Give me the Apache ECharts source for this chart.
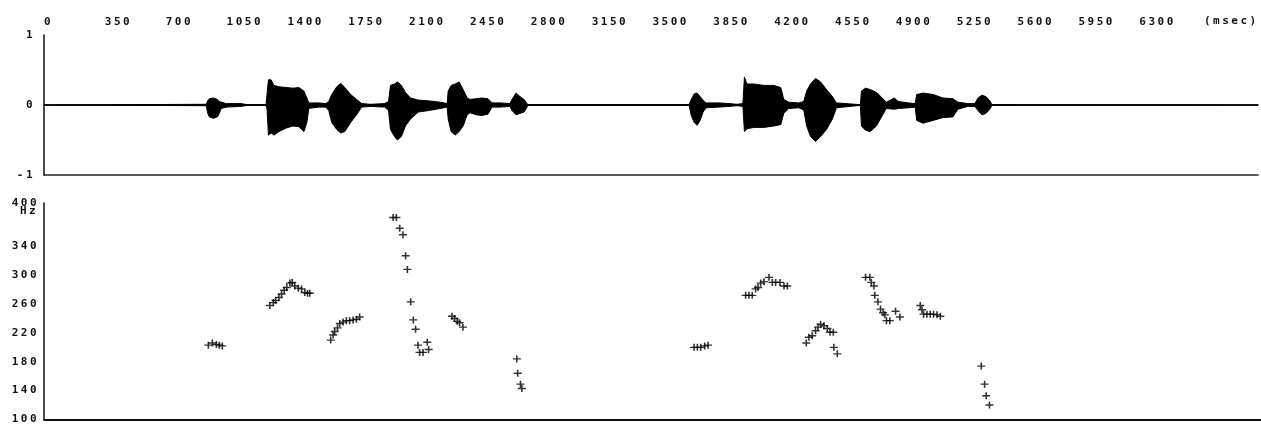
<!DOCTYPE html>
<html>
<head>
<meta charset="utf-8">
<script src="https://cdn.jsdelivr.net/npm/echarts@6/dist/echarts.min.js"></script>
<style>
html,body{margin:0;padding:0;background:#fff;}
#chart{width:1261px;height:425px;}
</style>
</head>
<body>
<div id="chart"></div>
<script>
// ---- tick labels ----
const timeTicks = [0,350,700,1050,1400,1750,2100,2450,2800,3150,3500,3850,4200,4550,4900,5250,5600,5950,6300];
const waveTicks = [-1,0,1];
const pitchTicks = [100,140,180,220,260,300,340,400];
const timeUnit = '(msec)';
const pitchUnit = 'Hz';

// ---- waveform envelope (ms, upper, lower amplitude) ----
const waveTime  = [0,933,942,951,974,997,1008,1019,1048,1134,1168,1277,1283,1291,1306,1323,1352,1392,1432,1466,1495,1512,1523,1546,1581,1621,1638,1655,1684,1707,1730,1764,1798,1827,1878,1959,1982,1993,2016,2033,2056,2079,2108,2153,2211,2279,2319,2325,2342,2365,2388,2411,2434,2451,2485,2520,2554,2577,2623,2680,2692,2715,2738,2761,2772,2783,3711,3723,3740,3757,3774,3791,3808,3883,3940,3986,4020,4029,4043,4083,4141,4198,4238,4255,4284,4341,4370,4387,4409,4438,4467,4501,4535,4558,4696,4702,4725,4753,4788,4822,4845,4891,4914,4971,5011,5020,5057,5114,5171,5228,5257,5314,5355,5372,5395,5418,5441,5452,6983];
const waveUpper = [0,0.01,0.06,0.09,0.10,0.08,0.05,0.03,0.02,0.02,0.005,0.005,0.03,0.36,0.36,0.28,0.26,0.25,0.24,0.25,0.20,0.10,0.03,0.03,0.03,0.02,0.05,0.15,0.26,0.31,0.25,0.15,0.08,0.02,0.01,0.02,0.05,0.28,0.30,0.33,0.28,0.18,0.10,0.07,0.06,0.04,0.02,0.20,0.28,0.30,0.33,0.22,0.10,0.08,0.09,0.10,0.09,0.03,0.03,0.02,0.08,0.17,0.12,0.08,0.04,0.005,0.005,0.08,0.16,0.17,0.12,0.07,0.03,0.03,0.02,0.01,0.02,0.40,0.30,0.30,0.28,0.28,0.25,0.08,0.04,0.03,0.05,0.20,0.30,0.38,0.33,0.22,0.12,0.03,0.005,0.20,0.24,0.22,0.18,0.10,0.04,0.10,0.05,0.03,0.02,0.15,0.17,0.15,0.10,0.09,0.04,0.02,0.02,0.10,0.14,0.12,0.06,0.005,0];
const waveLower = [0,-0.01,-0.12,-0.17,-0.19,-0.17,-0.12,-0.05,-0.03,-0.02,-0.005,-0.005,-0.06,-0.43,-0.40,-0.43,-0.38,-0.33,-0.30,-0.31,-0.38,-0.25,-0.05,-0.04,-0.03,-0.03,-0.08,-0.25,-0.35,-0.40,-0.38,-0.25,-0.14,-0.03,-0.02,-0.03,-0.08,-0.35,-0.45,-0.50,-0.45,-0.30,-0.20,-0.10,-0.08,-0.05,-0.03,-0.20,-0.38,-0.43,-0.38,-0.30,-0.14,-0.11,-0.14,-0.15,-0.13,-0.03,-0.03,-0.02,-0.08,-0.14,-0.12,-0.10,-0.06,-0.005,-0.005,-0.15,-0.25,-0.29,-0.22,-0.10,-0.04,-0.03,-0.02,-0.01,-0.02,-0.38,-0.34,-0.32,-0.32,-0.30,-0.28,-0.12,-0.05,-0.04,-0.07,-0.30,-0.45,-0.52,-0.45,-0.35,-0.20,-0.04,-0.005,-0.30,-0.36,-0.38,-0.30,-0.15,-0.05,-0.06,-0.05,-0.04,-0.03,-0.22,-0.26,-0.22,-0.18,-0.17,-0.06,-0.02,-0.02,-0.08,-0.14,-0.12,-0.06,-0.005,0];

// ---- pitch points (ms, Hz) ----
const pitchTime = [943,966,989,1006,1023,
  1296,1316,1329,1348,1363,1378,1393,1411,1424,1439,1459,1478,1496,1512,1525,
  1645,1659,1668,1684,1697,1716,1735,1754,1774,1793,1811,
  2003,2022,2041,2060,2075,2085,2104,2119,2132,2146,2155,2175,2207,2199,
  2341,2356,2371,2384,2404,
  2713,2718,2734,2742,
  3730,3749,3768,3791,3810,
  4026,4045,4064,4083,4097,4112,4131,4160,4179,4198,4223,4246,4265,
  4374,4389,4408,4427,4441,4456,4475,4495,4510,4529,4532,4552,
  4714,4739,4747,4762,4767,4785,4800,4815,4825,4834,4853,4886,4911,
  5028,5038,5047,5066,5085,5104,5124,5143,
  5378,5397,5406,5425];
const pitchHz = [203,206,204,203,202,
  258,262,265,269,274,279,283,289,290,285,282,281,276,275,275,
  210,217,222,227,233,235,237,237,238,239,242,
  380,380,365,356,327,308,263,238,225,203,193,193,197,207,
  243,240,236,234,228,
  184,164,149,143,
  200,200,200,202,203,
  272,272,272,281,283,289,291,297,290,290,290,285,285,
  206,214,216,223,228,232,230,226,221,221,200,191,
  297,297,290,285,272,263,253,248,245,237,237,250,242,
  258,252,246,246,246,246,245,243,
  174,149,133,120];

const X_MAX = 6983;
const LABEL_FAMILY = 'DejaVu Sans Mono';
const font = {fontFamily:LABEL_FAMILY, fontSize:11, fontWeight:'bold', color:'#111'};

// wide tracking for the label font (as in the scanned original)
(function(){
  const proto = CanvasRenderingContext2D.prototype;
  if (!('letterSpacing' in proto)) return;
  const orig = proto.fillText;
  proto.fillText = function(t, x, y, w){
    if (this.font && this.font.indexOf(LABEL_FAMILY) >= 0) {
      const prev = this.letterSpacing;
      this.letterSpacing = '2.5px';
      const r = w === undefined ? orig.call(this, t, x, y) : orig.call(this, t, x, y, w);
      this.letterSpacing = prev;
      return r;
    }
    return w === undefined ? orig.call(this, t, x, y) : orig.call(this, t, x, y, w);
  };
})();

const chart = echarts.init(document.getElementById('chart'), null, {renderer:'canvas'});
const zip = (a,b) => a.map((v,i)=>[v,b[i]]);

chart.setOption({
  animation:false,
  backgroundColor:'#fff',
  grid:[
    {left:44, right:0, top:35, height:140},
    {left:44, right:0, top:203, height:219}
  ],
  xAxis:[
    {gridIndex:0, type:'value', position:'top', min:0, max:X_MAX, interval:350,
     axisLine:{show:true, lineStyle:{color:'#111', width:1.5}}, axisTick:{show:false}, splitLine:{show:false},
     axisLabel:Object.assign({show:true, margin:7, align:'left', formatter:v=>timeTicks.includes(v)?String(v):''}, font)},
    {gridIndex:0, type:'value', position:'bottom', min:0, max:X_MAX,
     axisLine:{show:true, onZero:false, lineStyle:{color:'#222', width:1.5}}, axisTick:{show:false}, axisLabel:{show:false}, splitLine:{show:false}},
    {gridIndex:1, type:'value', position:'bottom', min:0, max:X_MAX,
     axisLine:{show:true, onZero:false, lineStyle:{color:'#111', width:2}}, axisTick:{show:false}, axisLabel:{show:false}, splitLine:{show:false}}
  ],
  yAxis:[
    {gridIndex:0, type:'value', min:-1, max:1, interval:1,
     axisLine:{show:true, onZero:false, lineStyle:{color:'#111', width:1.5}}, axisTick:{show:false}, splitLine:{show:false},
     axisLabel:Object.assign({margin:9, formatter:v=>waveTicks.includes(v)?String(v):''}, font)},
    {gridIndex:1, type:'value', min:100, max:400, interval:40,
     axisLine:{show:true, onZero:false, lineStyle:{color:'#111', width:1.5}}, axisTick:{show:false}, splitLine:{show:false},
     axisLabel:Object.assign({margin:5, formatter:v=>pitchTicks.includes(v)?String(v):''}, font)}
  ],
  graphic:[
    {type:'text', left:1204, top:16, style:{text:timeUnit, font:'bold 11px "DejaVu Sans Mono"', fill:'#111'}},
    {type:'text', left:20, top:206, style:{text:pitchUnit, font:'bold 11px "DejaVu Sans Mono"', fill:'#111'}}
  ],
  series:[
    {type:'line', xAxisIndex:0, yAxisIndex:0, data:zip(waveTime, waveUpper), symbol:'none',
     lineStyle:{color:'#000', width:1}, areaStyle:{color:'#000', opacity:1}, silent:true},
    {type:'line', xAxisIndex:0, yAxisIndex:0, data:zip(waveTime, waveLower), symbol:'none',
     lineStyle:{color:'#000', width:1}, areaStyle:{color:'#000', opacity:1}, silent:true},
    {type:'scatter', xAxisIndex:2, yAxisIndex:1, data:zip(pitchTime, pitchHz),
     symbol:'path://M4 0H6V4H10V6H6V10H4V6H0V4H4Z', symbolSize:[8,7],
     itemStyle:{color:'#000'}, silent:true}
  ]
});
</script>
</body>
</html>
